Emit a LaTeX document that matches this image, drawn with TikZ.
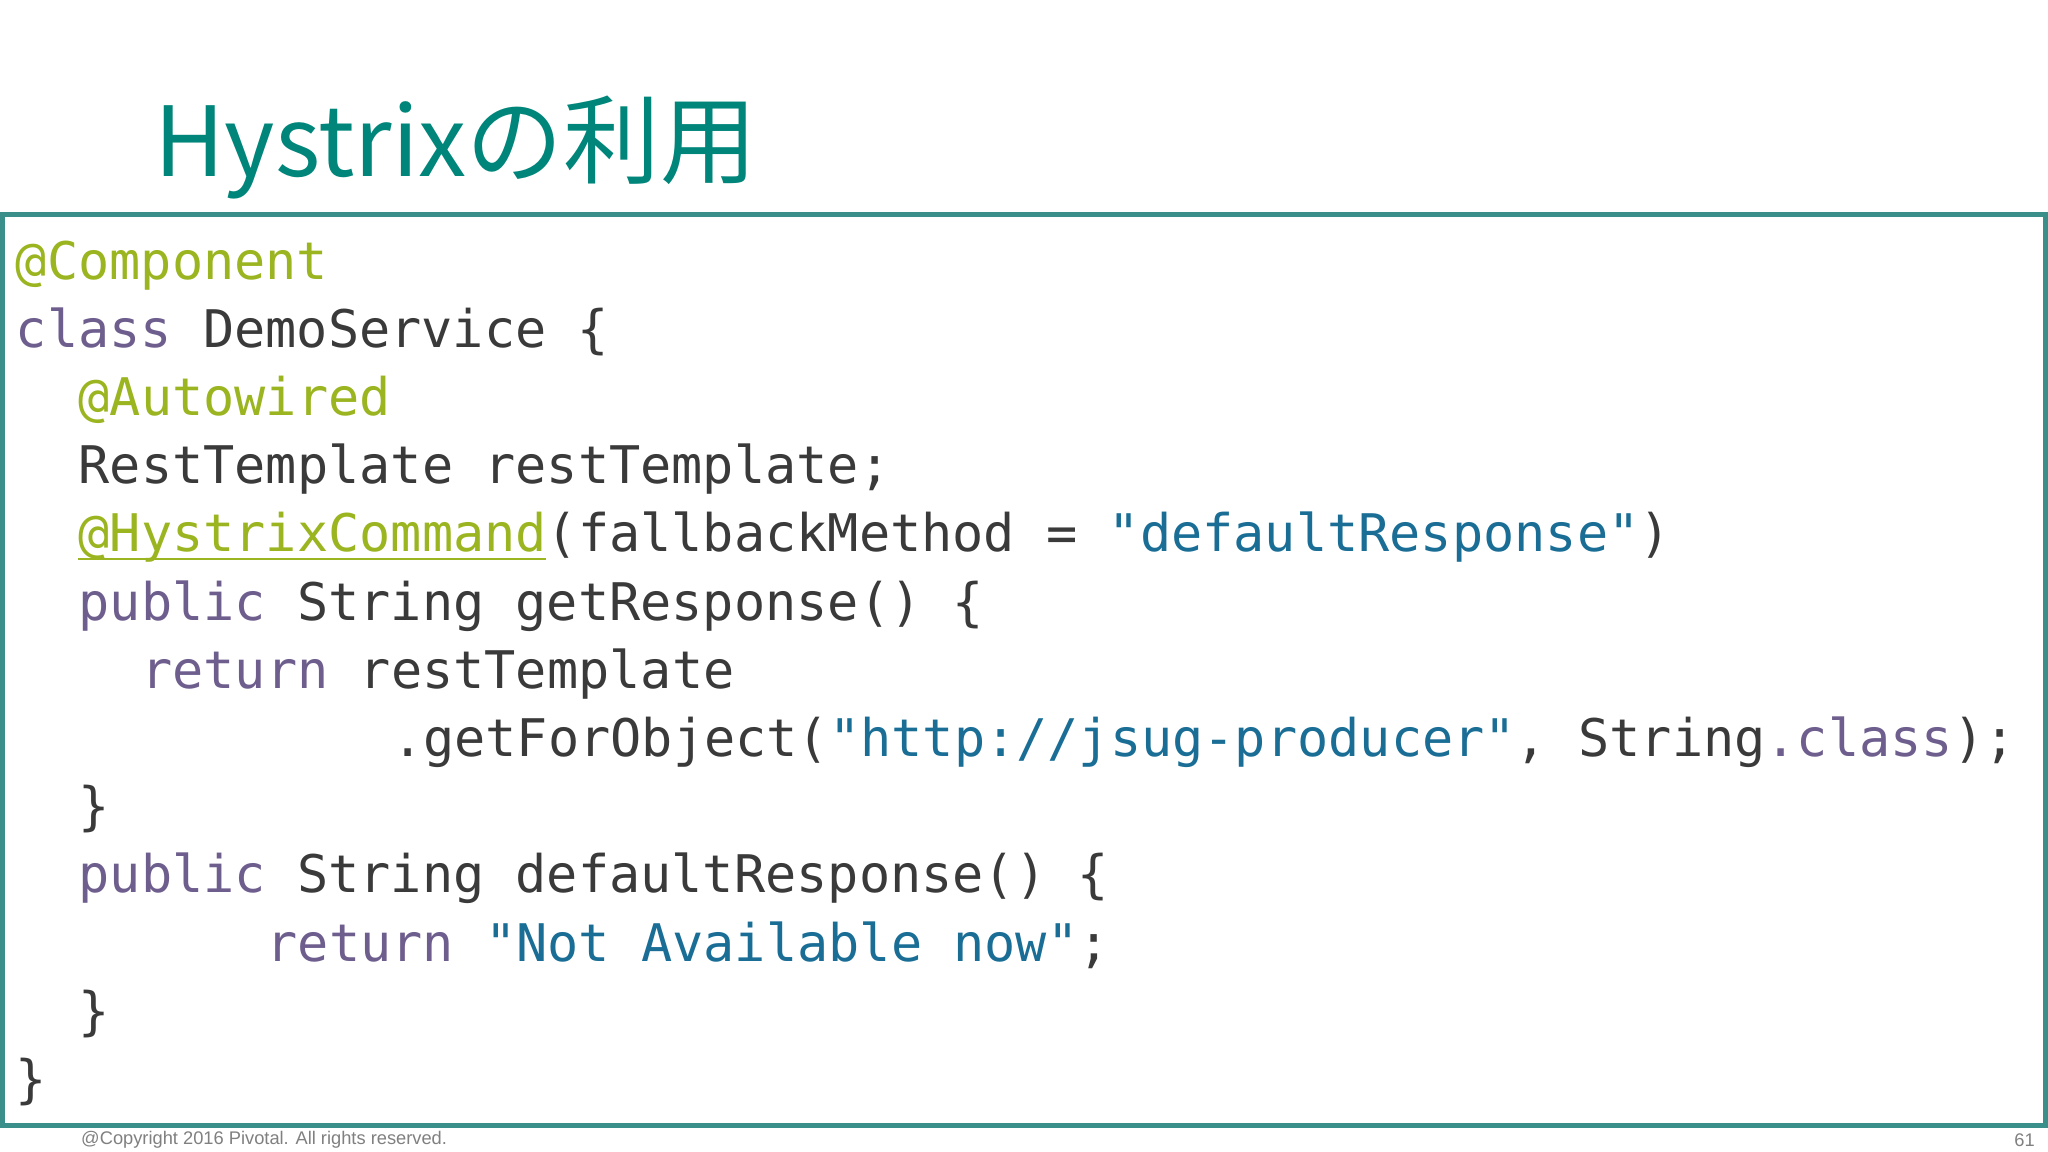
\documentclass[tikz,border=0pt]{standalone}
\usepackage{fontspec}
\newfontfamily\cjk{Noto Sans CJK JP}
\newfontfamily\code{DejaVu Sans Mono}
\setmainfont{Liberation Sans}
\definecolor{teal1}{HTML}{00857A}
\definecolor{boxc}{HTML}{3A8F8A}
\definecolor{ann}{HTML}{9AB520}
\definecolor{kw}{HTML}{6E5E8E}
\definecolor{str}{HTML}{1A6E96}
\definecolor{txt}{HTML}{3A3A3A}
\newcommand{\an}[1]{\textcolor{ann}{#1}}
\newcommand{\kw}[1]{\textcolor{kw}{#1}}
\newcommand{\st}[1]{\textcolor{str}{#1}}
\tikzset{codeline/.style={anchor=base west,inner sep=0pt,font=\code\fontsize{39.7}{44}\selectfont,text=txt}}
\begin{document}
\begin{tikzpicture}[x=1pt,y=-1pt]
\useasboundingbox (0,0) rectangle (1568,882);
\fill[white] (0,0) rectangle (1568,882);
\node[anchor=base west,inner sep=0pt,text=teal1,font=\cjk\fontsize{74}{84}\selectfont] (title) at (118,135) {Hystrixの利用};
\draw[boxc,line width=4pt] (2,164) rectangle (1566,862);
\node[codeline] (l1) at (12,214) {\an{@Component}};
\node[codeline] (l2) at (12,266) {\kw{class} DemoService \{};
\node[codeline] (l3) at (60,318) {\an{@Autowired}};
\node[codeline] (l4) at (60,370) {RestTemplate restTemplate;};
\node[codeline] (l5) at (60,422) {\an{@HystrixCommand}(fallbackMethod = \st{"defaultResponse"})};
\draw[ann,line width=2pt] (60,428) -- (418,428);
\node[codeline] (l6) at (60,475) {\kw{public} String getResponse() \{};
\node[codeline] (l7) at (108,527) {\kw{return} restTemplate};
\node[codeline] (l8) at (300,579) {.getForObject(\st{"http://jsug-producer"}, String\kw{.class});};
\node[codeline] (l9) at (60,631) {\}};
\node[codeline] (l10) at (60,683) {\kw{public} String defaultResponse() \{};
\node[codeline] (l11) at (204,736) {\kw{return} \st{"Not Available now"};};
\node[codeline] (l12) at (60,788) {\}};
\node[codeline] (l13) at (12,840) {\}};
\node[anchor=base west,inner sep=0pt,text=gray,font=\fontsize{14}{16}\selectfont] (copy) at (62,876) {@Copyright 2016 Pivotal. All rights reserved.};
\node[anchor=base east,inner sep=0pt,text=gray,font=\fontsize{14}{16}\selectfont] (page) at (1558,878) {61};
\end{tikzpicture}
\end{document}
